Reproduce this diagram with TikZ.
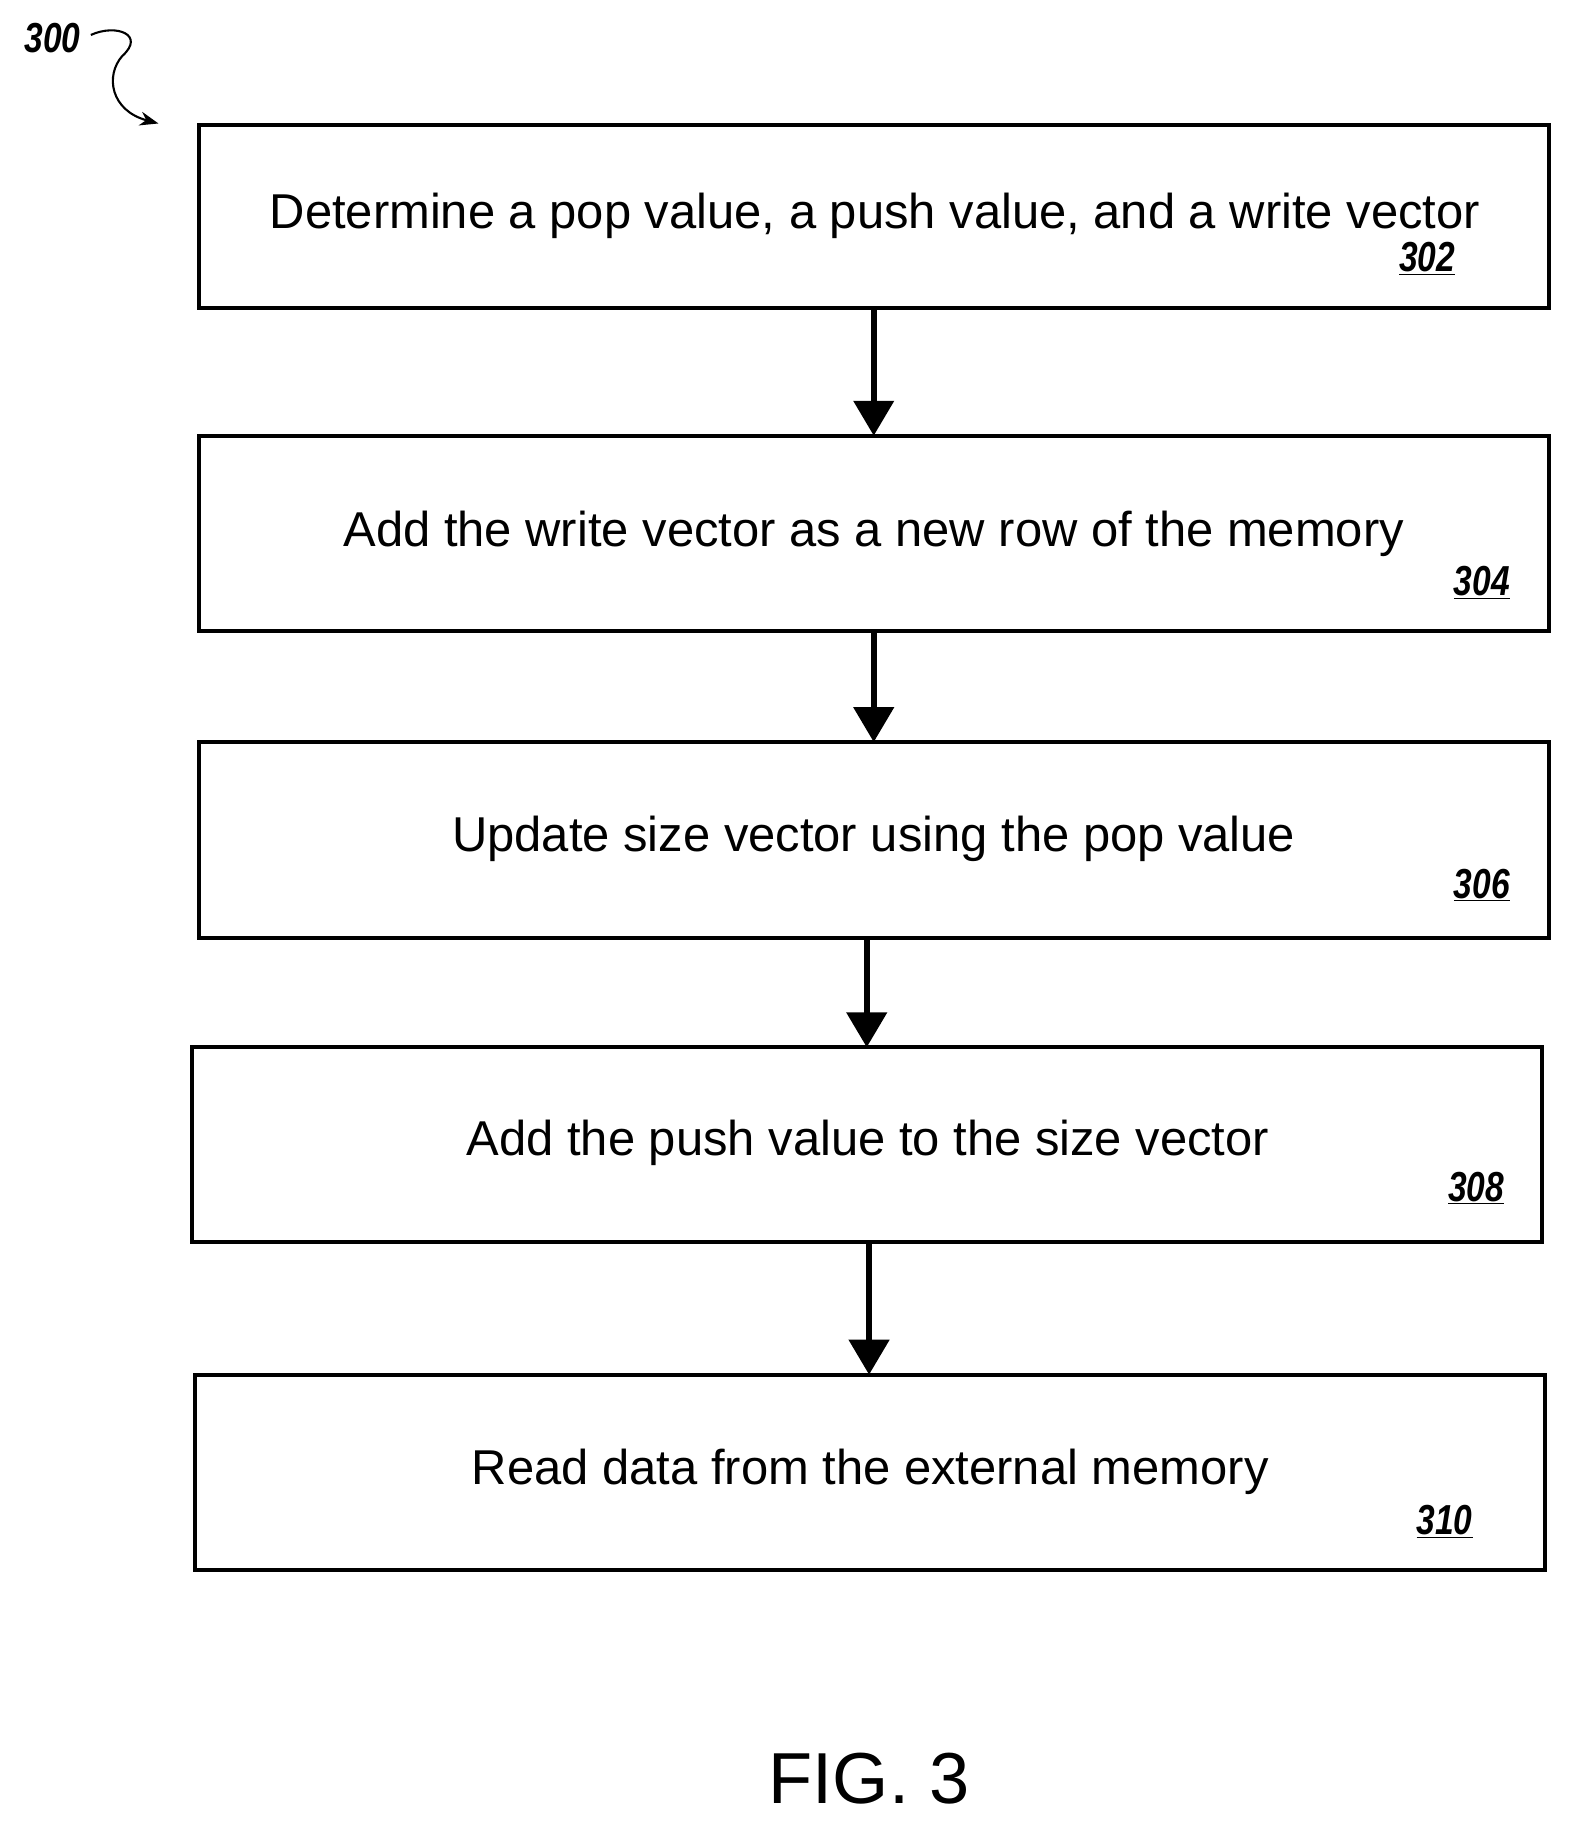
\documentclass[tikz,border=0pt]{standalone}
\usepackage{fontspec}
\setmainfont{Liberation Sans}
\usetikzlibrary{arrows.meta}
\begin{document}
\begin{tikzpicture}[x=1pt,y=-1pt,
  box/.style={draw,line width=3.5pt},
  txt/.style={font=\fontsize{42}{44}\selectfont,anchor=center},
  num/.style={font=\fontsize{36}{38}\selectfont\bfseries\itshape,anchor=center,xscale=0.8},
  arr/.style={line width=5pt,-{Triangle[length=30pt,width=34pt]}}]
\useasboundingbox (0,0) rectangle (1350,1570);
\node[minimum width=1159pt,minimum height=157pt] (b1) at (750.5,185.5) {};
\node[minimum width=1159pt,minimum height=168pt] (b2) at (750.5,458) {};
\node[minimum width=1159pt,minimum height=168pt] (b3) at (750.5,721) {};
\node[minimum width=1159pt,minimum height=167pt] (b4) at (744.5,982.5) {};
\node[minimum width=1159pt,minimum height=168pt] (b5) at (746.5,1264) {};
\draw[box] (171,107) rectangle (1330,264);
\draw[box] (171,374) rectangle (1330,542);
\draw[box] (171,637) rectangle (1330,805);
\draw[box] (165,899) rectangle (1324,1066);
\draw[box] (167,1180) rectangle (1326,1348);
\node[txt] (t1) at (751,185) {Determine a pop value, a push value, and a write vector};
\node[txt] (t2) at (750,458) {Add the write vector as a new row of the memory};
\node[txt] (t3) at (750,720) {Update size vector using the pop value};
\node[txt] (t4) at (745,981) {Add the push value to the size vector};
\node[txt] (t5) at (747,1263) {Read data from the external memory};
\node[num] (n1) at (1225,222) {\underline{302}};
\node[num] (n2) at (1272,500) {\underline{304}};
\node[num] (n3) at (1272,760) {\underline{306}};
\node[num] (n4) at (1267,1020) {\underline{308}};
\node[num] (n5) at (1240,1306) {\underline{310}};
\draw[arr] (b1.south -| 750,0) -- (750,374);
\draw[arr] (750,542) -- (750,637);
\draw[arr] (744,805) -- (744,899);
\draw[arr] (746,1066) -- (746,1180);
\node[font=\fontsize{62}{64}\selectfont] (fig) at (746,1527) {FIG. 3};
\node[num] (n300) at (45,33) {300};
\coordinate (c300) at (136,106);
\draw[line width=1.8pt,-{Stealth[length=16pt,width=12pt]}] (78,30) .. controls (100,20) and (125,30) .. (105,48) .. controls (90,65) and (95,95) .. (c300);
\end{tikzpicture}
\end{document}
